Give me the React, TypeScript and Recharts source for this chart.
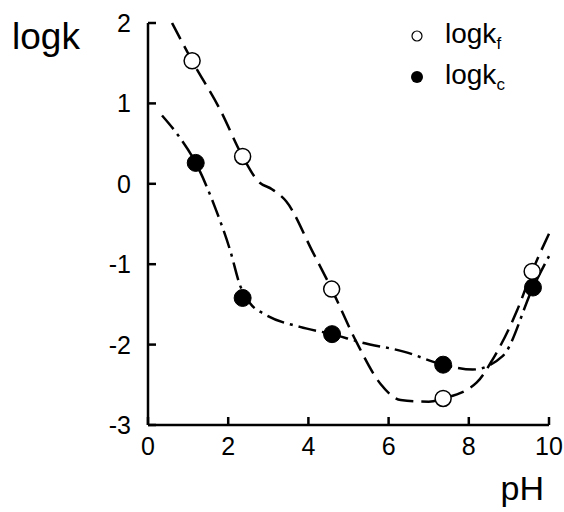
import React from 'react';
import { ComposedChart, Line, Scatter, XAxis, YAxis, Legend } from 'recharts';

const pHTicks = [0, 2, 4, 6, 8, 10];
const logkTicks = [-3, -2, -1, 0, 1, 2];

const pHf = [1.1, 2.36, 4.58, 7.36, 9.58];
const logkf = [1.53, 0.34, -1.31, -2.67, -1.09];
const pHc = [1.19, 2.36, 4.59, 7.36, 9.6];
const logkc = [0.26, -1.42, -1.87, -2.25, -1.29];

const curveFx = [0.6, 1.1, 1.8, 2.36, 2.75, 3.1, 3.45, 4.1, 4.58, 5.2, 5.8, 6.3, 7.0, 7.36, 8.2, 8.6, 9.2, 9.58, 10.0];
const curveFy = [2.0, 1.53, 0.92, 0.34, 0.03, -0.07, -0.22, -0.84, -1.31, -1.97, -2.49, -2.69, -2.71, -2.67, -2.47, -2.18, -1.58, -1.09, -0.62];
const curveCx = [0.35, 0.8, 1.19, 1.7, 2.05, 2.3, 2.55, 2.9, 3.79, 4.59, 5.3, 6.4, 7.36, 8.1, 8.85, 9.6, 10.0];
const curveCy = [0.85, 0.57, 0.26, -0.33, -0.83, -1.27, -1.49, -1.62, -1.78, -1.87, -1.97, -2.09, -2.25, -2.31, -2.14, -1.29, -0.9];

const fPoints = pHf.map((x, i) => ({ x, y: logkf[i] }));
const cPoints = pHc.map((x, i) => ({ x, y: logkc[i] }));
const fCurve = curveFx.map((x, i) => ({ x, y: curveFy[i] }));
const cCurve = curveCx.map((x, i) => ({ x, y: curveCy[i] }));

const FONT = '"Liberation Sans", Arial, sans-serif';
const X_MARGIN = 12;
const Y_MARGIN = 17;
const TICK_LEN = 8;

const OpenDot = (p: any) => <circle cx={p.cx} cy={p.cy} r={8} fill="#fff" stroke="#000" strokeWidth={1.5} />;
const FilledDot = (p: any) => <circle cx={p.cx} cy={p.cy} r={8.5} fill="#000" stroke="#000" strokeWidth={1} />;

const XTick = (p: any) => {
  const axisY = p.y - X_MARGIN;
  return (
    <g>
      <line x1={p.x} x2={p.x} y1={axisY} y2={axisY - TICK_LEN} stroke="#000" strokeWidth={2.5} />
      <text x={p.x} y={p.y} dy="0.72em" textAnchor="middle" fontSize={25} fontFamily={FONT} fill="#000">
        {p.payload.value}
      </text>
    </g>
  );
};

const YTick = (p: any) => {
  const axisX = p.x + Y_MARGIN;
  return (
    <g>
      <line x1={axisX} x2={axisX + TICK_LEN} y1={p.y} y2={p.y} stroke="#000" strokeWidth={2.5} />
      <text x={p.x} y={p.y} dy="0.36em" textAnchor="end" fontSize={25} fontFamily={FONT} fill="#000">
        {p.payload.value}
      </text>
    </g>
  );
};

const YLabel = (props: any) => {
  const vb = props.viewBox || { x: 0, y: 0 };
  return (
    <text x={vb.x + 12} y={vb.y + 26} fontSize={37} fontFamily={FONT} fill="#000">logk</text>
  );
};

const XLabel = (props: any) => {
  const vb = props.viewBox || { x: 0, y: 0, width: 0 };
  return (
    <text x={vb.x + vb.width - 5} y={vb.y + 75} textAnchor="end" fontSize={34} fontFamily={FONT} fill="#000">pH</text>
  );
};

const LegendContent = () => (
  <svg width={140} height={90} style={{ display: 'block' }}>
    <circle cx={17} cy={21} r={5} fill="#fff" stroke="#000" strokeWidth={1.2} />
    <text x={45} y={28} fontSize={28} fontFamily={FONT} fill="#000">
      logk<tspan fontSize={17} dy={6}>f</tspan>
    </text>
    <circle cx={17} cy={62} r={6} fill="#000" />
    <text x={45} y={69} fontSize={28} fontFamily={FONT} fill="#000">
      logk<tspan fontSize={17} dy={6}>c</tspan>
    </text>
  </svg>
);

export default function App() {
  return (
    <div style={{ position: 'absolute', left: 0, top: 0, width: 564, height: 512, background: '#fff' }}>
      <ComposedChart width={564} height={512} margin={{ top: 23, right: 15, bottom: 0, left: 0 }}>
        <XAxis
          type="number"
          dataKey="x"
          domain={[0, 10]}
          ticks={pHTicks}
          height={87}
          tickSize={0}
          tickMargin={X_MARGIN}
          axisLine={{ stroke: '#000', strokeWidth: 2.5 }}
          tickLine={false}
          tick={<XTick />}
          label={<XLabel />}
        />
        <YAxis
          type="number"
          dataKey="y"
          domain={[-3, 2]}
          ticks={logkTicks}
          width={148}
          tickSize={0}
          tickMargin={Y_MARGIN}
          axisLine={{ stroke: '#000', strokeWidth: 2.5 }}
          tickLine={false}
          tick={<YTick />}
          label={<YLabel />}
        />
        <Legend
          layout="horizontal"
          verticalAlign="middle"
          align="center"
          content={<LegendContent />}
          wrapperStyle={{ position: 'absolute', left: 400, top: 15, width: 140, height: 90 }}
        />
        <Line data={fCurve} dataKey="y" type="monotone" stroke="#000" strokeWidth={2.5} strokeDasharray="18 8" dot={false} activeDot={false} isAnimationActive={false} legendType="none" />
        <Line data={cCurve} dataKey="y" type="monotone" stroke="#000" strokeWidth={2.5} strokeDasharray="18 6 3 6" dot={false} activeDot={false} isAnimationActive={false} legendType="none" />
        <Scatter data={fPoints} dataKey="y" shape={OpenDot} isAnimationActive={false} />
        <Scatter data={cPoints} dataKey="y" shape={FilledDot} isAnimationActive={false} />
      </ComposedChart>
    </div>
  );
}
